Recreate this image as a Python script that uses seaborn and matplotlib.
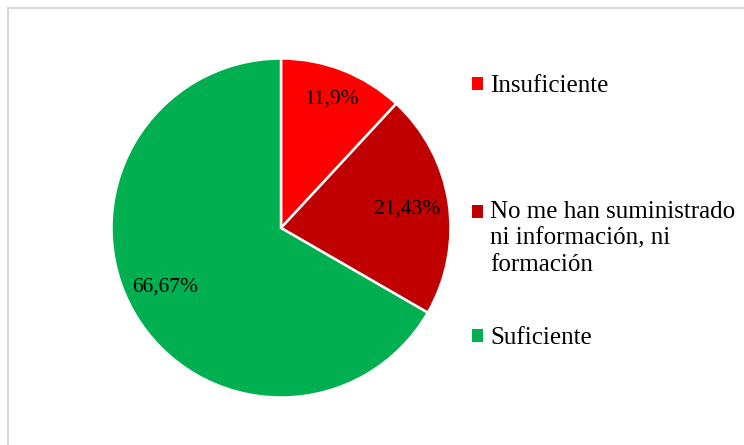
import numpy as np
import matplotlib
matplotlib.use("Agg")
import matplotlib.pyplot as plt
from matplotlib.patches import Patch, Rectangle
from matplotlib.legend_handler import HandlerPatch
import seaborn as sns

categories = ["Insuficiente", "No me han suministrado\nni información, ni\nformación", "Suficiente"]
values = [11.9, 21.43, 66.67]
pct_labels = ["11,9%", "21,43%", "66,67%"]
colors = ["#FF0000", "#C00000", "#00B050"]

sns.set_style("white")
plt.rcParams["font.family"] = ["Liberation Serif", "DejaVu Serif"]
plt.rcParams["text.color"] = "black"

W, H = 744, 445
fig = plt.figure(figsize=(W / 100, H / 100), dpi=100)
fig.patch.set_facecolor("white")

cx, cy, r = 281, 228, 169.5
ax = fig.add_axes([(cx - r) / W, (H - cy - r) / H, 2 * r / W, 2 * r / H])
wedges, _ = ax.pie(values, colors=colors, startangle=90, counterclock=False,
                   wedgeprops=dict(edgecolor="white", linewidth=1.8))
ax.set_xlim(-1, 1)
ax.set_ylim(-1, 1)
ax.set_aspect("equal")

# label placement (Excel "best fit" style): radial distance and optional angle override
label_r = [0.82, 0.75, 0.77]
label_angle_override = [None, None, 207.0]
for w, txt, rr, ang in zip(wedges, pct_labels, label_r, label_angle_override):
    a = ang if ang is not None else (w.theta1 + w.theta2) / 2
    x = rr * np.cos(np.deg2rad(a))
    y = rr * np.sin(np.deg2rad(a))
    ax.text(x, y, txt, ha="center", va="center", fontsize=15.5, color="black")


class TopAlignedSquare(HandlerPatch):
    """Square legend marker aligned with the first line of a multi-line label."""
    def __init__(self, n_lines, line_pt, **kw):
        super().__init__(**kw)
        self.shift = (n_lines - 1) * line_pt / 2.0

    def create_artists(self, legend, orig_handle, xdescent, ydescent, width, height,
                       fontsize, trans):
        p = Rectangle((-xdescent, -ydescent + self.shift), width, height,
                      facecolor=orig_handle.get_facecolor(), edgecolor="none",
                      transform=trans)
        return [p]


# legend entries positioned individually (top of text in px)
legend_tops = [75, 201, 327]
for cat, col, top in zip(categories, colors, legend_tops):
    handle = Patch(facecolor=col, edgecolor="none")
    n_lines = cat.count("\n") + 1
    leg = fig.legend(handles=[handle], labels=[cat],
                     loc="upper left", bbox_to_anchor=(472 / W, 1 - top / H),
                     frameon=False, fontsize=18, handlelength=0.42, handleheight=0.42,
                     handletextpad=0.3, borderpad=0, borderaxespad=0,
                     handler_map={handle: TopAlignedSquare(n_lines, 19.0)})
    for t in leg.get_texts():
        t.set_linespacing(1.27)
        t.set_multialignment("left")
        t.set_color("black")

# outer border
fig.add_artist(Rectangle((7.5 / W, -0.1), 1.2, (H - 7.5) / H + 0.1, transform=fig.transFigure,
                         fill=False, edgecolor="#D9D9D9", linewidth=1.5))

fig.savefig("out.png", dpi=100)
